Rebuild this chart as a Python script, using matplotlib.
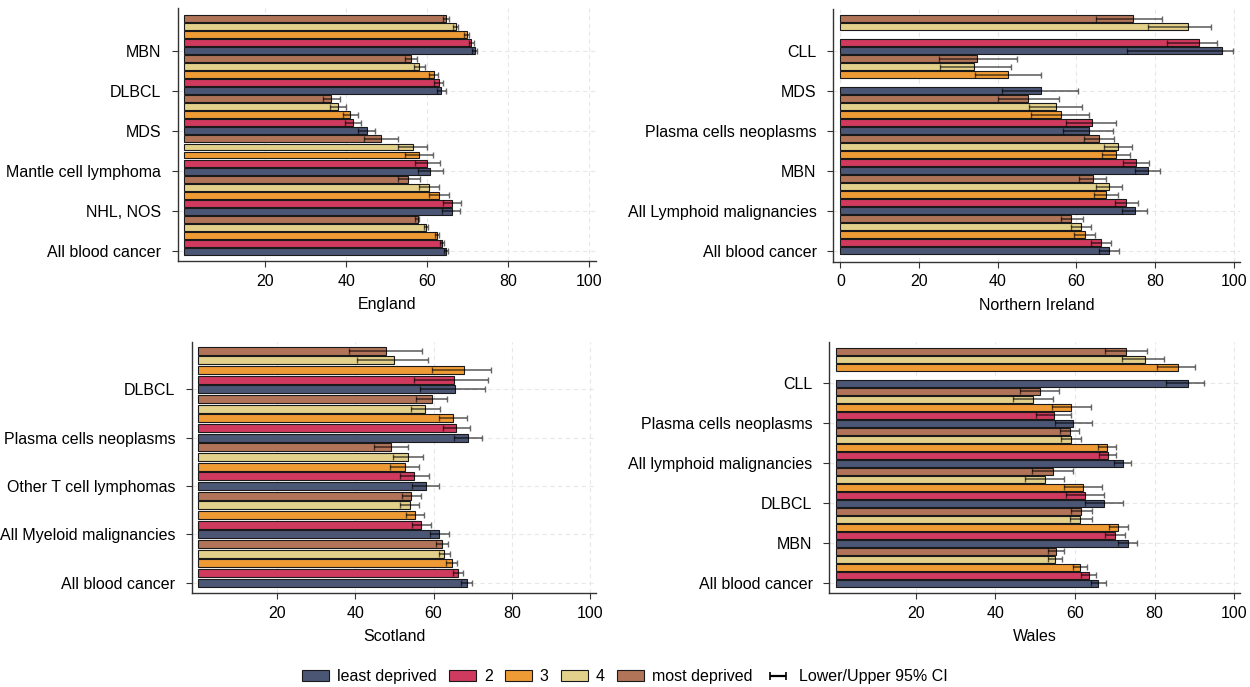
import numpy as np
import matplotlib.pyplot as plt
from matplotlib.patches import Patch

plt.rcParams['font.family'] = ['Liberation Sans', 'DejaVu Sans']
plt.rcParams['font.size'] = 11.5

nan = np.nan

# deprivation quintiles, order inside every group: least, 2, 3, 4, most
quintiles = ['least deprived', '2', '3', '4', 'most deprived']
colors = ['#4b5675', '#cf3a5e', '#ef9b35', '#e3d18b', '#b27458']

# England (groups listed bottom -> top)
eng_groups = ['All blood cancer', 'NHL, NOS', 'Mantle cell lymphoma', 'MDS', 'DLBCL', 'MBN']
eng_est = [[64.7, 63.7, 62.3, 59.7, 57.6],
           [66.0, 66.1, 62.9, 60.5, 55.3],
           [60.8, 60.0, 58.0, 56.4, 48.6],
           [45.1, 41.8, 41.0, 38.0, 36.3],
           [63.5, 62.8, 61.6, 58.0, 56.0],
           [71.7, 70.9, 69.8, 67.0, 64.6]]
eng_lo = [[64.2, 63.2, 61.9, 59.1, 57.1],
          [63.6, 63.9, 60.5, 57.9, 52.7],
          [57.6, 56.9, 54.4, 52.7, 44.4],
          [43.0, 39.8, 39.1, 36.1, 34.3],
          [62.4, 61.7, 60.5, 56.8, 54.5],
          [71.0, 70.2, 69.1, 66.3, 63.9]]
eng_hi = [[65.2, 64.2, 62.8, 60.3, 58.0],
          [68.0, 68.4, 65.3, 62.9, 58.1],
          [63.9, 63.2, 61.4, 60.0, 52.8],
          [47.1, 43.7, 43.0, 40.0, 38.4],
          [64.7, 63.9, 62.7, 59.4, 57.4],
          [72.3, 71.5, 70.3, 67.7, 65.4]]

# Northern Ireland
ni_groups = ['All blood cancer', 'All Lymphoid malignancies', 'MBN',
             'Plasma cells neoplasms', 'MDS', 'CLL']
ni_est = [[68.3, 66.3, 62.2, 61.2, 58.7],
          [74.8, 72.7, 67.5, 68.3, 64.1],
          [78.1, 75.2, 70.0, 70.5, 65.7],
          [63.2, 63.9, 56.1, 54.7, 47.8],
          [51.1, nan, 42.6, 34.0, 34.8],
          [97.1, 91.3, nan, 88.4, 74.4]]
ni_lo = [[65.7, 63.8, 59.5, 58.5, 56.0],
         [71.7, 69.9, 64.4, 65.1, 60.7],
         [75.0, 71.9, 66.5, 67.1, 62.0],
         [56.7, 57.4, 48.4, 47.9, 40.0],
         [41.0, nan, 34.1, 25.3, 25.1],
         [72.9, 83.0, nan, 78.3, 65.1]]
ni_hi = [[70.8, 68.7, 64.7, 63.7, 61.6],
         [77.9, 75.7, 70.6, 71.6, 67.5],
         [81.2, 78.5, 73.6, 74.1, 69.5],
         [69.2, 70.0, 63.3, 61.4, 55.5],
         [60.3, nan, 51.1, 43.3, 44.9],
         [99.7, 95.8, nan, 94.1, 81.8]]

# Scotland
sco_groups = ['All blood cancer', 'All Myeloid malignancies', 'Other T cell lymphomas',
              'Plasma cells neoplasms', 'DLBCL']
sco_est = [[68.6, 66.2, 64.6, 62.6, 62.1],
           [61.4, 56.9, 55.2, 53.9, 54.3],
           [58.2, 55.1, 52.6, 53.5, 49.2],
           [68.9, 65.8, 65.0, 57.9, 59.5],
           [65.5, 65.3, 67.8, 49.8, 47.8]]
sco_lo = [[67.1, 64.9, 63.2, 61.3, 60.7],
          [59.1, 54.4, 52.9, 51.5, 52.0],
          [54.6, 51.5, 49.0, 49.6, 44.8],
          [65.3, 62.3, 61.4, 54.3, 55.4],
          [56.5, 55.0, 59.7, 40.6, 38.4]]
sco_hi = [[69.9, 67.6, 66.0, 64.1, 63.7],
          [63.9, 59.4, 57.6, 56.3, 56.7],
          [61.5, 58.9, 56.3, 57.3, 53.6],
          [72.4, 69.3, 68.5, 61.6, 63.5],
          [73.2, 73.9, 74.7, 58.7, 57.0]]

# Wales
wal_groups = ['All blood cancer', 'MBN', 'DLBCL', 'All lymphoid malignancies',
              'Plasma cells neoplasms', 'CLL']
wal_est = [[65.9, 63.4, 61.3, 54.9, 55.1],
           [73.3, 70.1, 70.9, 61.3, 61.5],
           [67.4, 62.6, 62.1, 52.5, 54.4],
           [72.0, 68.2, 68.0, 59.0, 58.7],
           [59.6, 54.8, 59.0, 49.4, 51.2],
           [88.4, nan, 85.9, 77.7, 72.8]]
wal_lo = [[64.0, 61.5, 59.6, 53.1, 53.2],
          [70.9, 67.5, 68.5, 58.7, 58.9],
          [62.4, 57.8, 57.3, 47.5, 49.1],
          [69.7, 66.0, 65.9, 56.6, 56.2],
          [55.0, 50.1, 54.2, 44.5, 46.1],
          [82.9, nan, 80.5, 71.9, 67.5]]
wal_hi = [[67.7, 65.2, 63.1, 56.8, 57.2],
          [75.7, 72.6, 73.3, 64.2, 64.2],
          [72.0, 67.2, 66.7, 57.3, 59.6],
          [74.1, 70.4, 70.3, 61.4, 61.1],
          [64.3, 59.1, 63.9, 54.4, 56.1],
          [92.4, nan, 90.1, 82.5, 78.0]]


def draw(ax, title, groups, est, lo, hi, xticks, xlim, ylim, bar_h):
    est = np.array(est, float)
    lo = np.array(lo, float)
    hi = np.array(hi, float)
    n = len(groups)
    for q in range(5):
        pos = np.arange(n) * 5 + q
        ax.barh(pos, est[:, q], height=bar_h, color=colors[q],
                edgecolor='#1a1a1a', linewidth=0.8, zorder=2)
        ax.errorbar(est[:, q], pos, xerr=[est[:, q] - lo[:, q], hi[:, q] - est[:, q]],
                    fmt='none', ecolor='black', alpha=0.6, elinewidth=1.2,
                    capsize=2.5, capthick=1.0, zorder=3)
    ax.set_yticks(np.arange(n) * 5)
    ax.set_yticklabels(groups)
    ax.set_xticks(xticks)
    ax.set_xlim(xlim)
    ax.set_ylim(ylim)
    ax.set_xlabel(title, labelpad=6)
    ax.grid(True, color='#e8e8e8', linestyle=(0, (4, 3)), linewidth=0.8)
    ax.set_axisbelow(True)
    for s in ['top', 'right']:
        ax.spines[s].set_visible(False)
    for s in ['left', 'bottom']:
        ax.spines[s].set_color('#333333')
        ax.spines[s].set_linewidth(1.0)
    ax.tick_params(axis='y', length=4, pad=8, color='#333333')
    ax.tick_params(axis='x', length=4, pad=5, color='#333333')


fig = plt.figure(figsize=(12.5, 6.87), dpi=100)

ax1 = fig.add_axes([0.1422, 0.6194, 0.3348, 0.3686])
ax2 = fig.add_axes([0.6666, 0.6191, 0.3254, 0.3674])
ax3 = fig.add_axes([0.1536, 0.1368, 0.3234, 0.3658])
ax4 = fig.add_axes([0.6634, 0.1364, 0.3286, 0.3663])

ticks = [20, 40, 60, 80, 100]
draw(ax1, 'England', eng_groups, eng_est, eng_lo, eng_hi, ticks,
     (-1.55, 101.7), (-1.29, 30.32), 0.87)
draw(ax2, 'Northern Ireland', ni_groups, ni_est, ni_lo, ni_hi, [0] + ticks,
     (-1.83, 101.6), (-1.36, 30.19), 0.87)
draw(ax3, 'Scotland', sco_groups, sco_est, sco_lo, sco_hi, ticks,
     (-1.61, 101.5), (-1.07, 24.93), 0.82)
draw(ax4, 'Wales', wal_groups, wal_est, wal_lo, wal_hi, ticks,
     (-1.81, 101.5), (-1.26, 30.19), 0.87)

# legend key for the CI: an empty errorbar drawn in solid black
ci_key = ax1.errorbar([nan], [nan], xerr=[[nan], [nan]], fmt='none', ecolor='black',
                      elinewidth=1.6, capsize=3, capthick=1.2)

handles = [Patch(facecolor=c, edgecolor='#1a1a1a', linewidth=0.8, label=l)
           for c, l in zip(colors, quintiles)]
handles.append(ci_key)
labels = quintiles + ['Lower/Upper 95% CI']
fig.legend(handles, labels, loc='center', bbox_to_anchor=(0.5, 0.0146), ncol=6,
           frameon=False, handlelength=1.7, handleheight=0.7, handletextpad=0.5,
           columnspacing=0.75)

fig.savefig('out.png', dpi=100)
